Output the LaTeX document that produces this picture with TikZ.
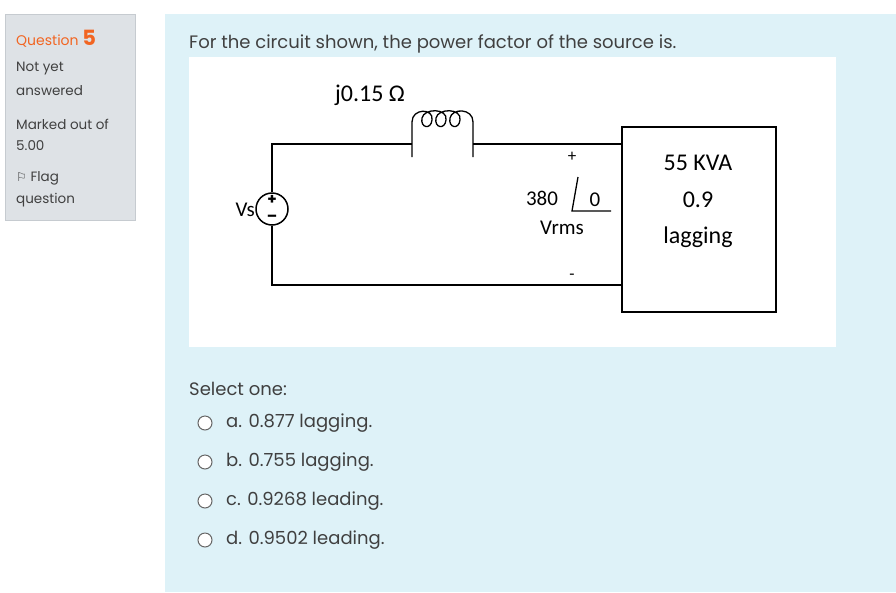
\documentclass[tikz,border=0pt]{standalone}
\usepackage{fontspec}
\setmainfont{Poppins}
\newfontfamily\calib{Carlito}
\newfontfamily\dv{DejaVu Sans}
\definecolor{panel}{HTML}{DEE2E6}
\definecolor{panelb}{HTML}{C6CBD0}
\definecolor{qbg}{HTML}{DEF2F8}
\definecolor{txt}{HTML}{404040}
\definecolor{org}{HTML}{F26522}
\begin{document}
\begin{tikzpicture}[x=1pt,y=-1pt,
  side/.style={anchor=west,inner sep=0pt,text=txt,font=\fontsize{13.5}{15}\selectfont},
  opt/.style={anchor=west,inner sep=0pt,text=txt,font=\fontsize{18}{20}\selectfont},
  radio/.style={draw=txt!80,fill=white,line width=1pt,circle,minimum size=14pt,inner sep=0pt},
  wire/.style={line width=1.5pt,black},
  ct/.style={font=\calib\fontsize{24}{26}\selectfont}]
\useasboundingbox (0,0) rectangle (896,592);
\fill[white] (0,0) rectangle (896,592);
\draw[panelb,fill=panel] (5,14) rectangle (135,220);
\fill[qbg] (165,14) rectangle (896,592);
\node[side,text=org,font=\fontsize{14}{15}\selectfont] (q) at (16,39) {Question \textbf{\fontsize{21}{21}\selectfont 5}};
\node[side] (n1) at (16,69) {Not yet};
\node[side] (n2) at (16,91) {answered};
\node[side] (m1) at (16,124) {Marked out of};
\node[side] (m2) at (16,146) {5.00};
\node[side] (f1) at (16,178) {{\dv\fontsize{12}{12}\selectfont ⚐} Flag};
\node[side] (f2) at (16,200) {question};
\node[opt] (qt) at (189,44) {For the circuit shown, the power factor of the source is.};
\fill[white] (189,57) rectangle (836,347);
% circuit
\node[draw,line width=1.5pt,minimum width=154pt,minimum height=185pt,inner sep=0pt] (load) at (699,219.5) {};
\node[ct] (l1) at (698,163) {55 KVA};
\node[ct] (l2) at (698,200) {0.9};
\node[ct] (l3) at (698,237) {lagging};
\node[circle,draw,line width=1.5pt,minimum size=32pt,inner sep=0pt] (src) at (272,209) {};
\node[font=\bfseries\fontsize{15}{15}\selectfont] (sp) at (272,200) {+};
\node[font=\bfseries\fontsize{15}{15}\selectfont] (sm) at (272,218) {--};
\node[font=\fontsize{21}{21}\selectfont\calib,anchor=east,inner sep=1pt] (vs) at (256,210) {Vs};
\coordinate (tl) at (272,144);
\coordinate (bl) at (272,285);
\coordinate (i1) at (412,144);
\coordinate (i2) at (473,144);
\draw[wire] (src.north) -- (tl) -- (i1);
\draw[wire] (src.south) -- (bl) -- (bl -| load.west);
\draw[wire] (i2) -- (i2 -| load.west);
\draw[line width=1.3pt] (412,157) -- (412,122) .. controls (412,108) and (434,108) .. (432,120)
  .. controls (431,130) and (420,128) .. (422,118)
  .. controls (424,108) and (448,108) .. (446,120)
  .. controls (445,130) and (434,128) .. (436,118)
  .. controls (438,108) and (462,108) .. (460,120)
  .. controls (459,130) and (448,128) .. (450,118)
  .. controls (452,108) and (473,108) .. (473,122) -- (473,157);
\node[font=\calib\fontsize{24}{26}\selectfont] (lbl) at (370,95) {j0.15 Ω};
\node[font=\calib\fontsize{17}{17}\selectfont] (pl) at (572,157) {+};
\node[font=\calib\fontsize{17}{17}\selectfont] (mi) at (572,277) {-};
\node[font=\calib\fontsize{21}{21}\selectfont] (v380) at (542,198) {380};
\node[font=\calib\fontsize{21}{21}\selectfont] (v0) at (595,200) {0};
\coordinate (a1) at (578,177);
\coordinate (a2) at (572,211);
\coordinate (a3) at (611,211);
\draw[line width=1.3pt] (a1) -- (a2) -- (a3);
\node[font=\calib\fontsize{21}{21}\selectfont] (vr) at (562,228) {Vrms};
% options
\node[opt] (sel) at (189,389) {Select one:};
\node[radio] (r1) at (205,423) {}; \node[opt] (o1) at (226,423) {a. 0.877 lagging.};
\node[radio] (r2) at (205,462) {}; \node[opt] (o2) at (226,462) {b. 0.755 lagging.};
\node[radio] (r3) at (205,501) {}; \node[opt] (o3) at (226,501) {c. 0.9268 leading.};
\node[radio] (r4) at (205,540) {}; \node[opt] (o4) at (226,540) {d. 0.9502 leading.};
\end{tikzpicture}
\end{document}
